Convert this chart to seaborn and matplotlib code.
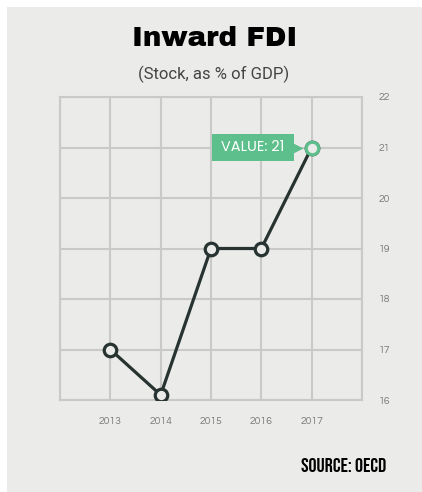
import matplotlib
matplotlib.use("Agg")
import matplotlib.pyplot as plt
from matplotlib.patches import Rectangle
import pandas as pd
import seaborn as sns

# data
years = [2013, 2014, 2015, 2016, 2017]
fdi_stock = [17.0, 16.1, 19.0, 19.0, 21.0]
y_ticks = [16, 17, 18, 19, 20, 21, 22]
grid_years = [2012, 2013, 2014, 2015, 2016, 2017, 2018]

bg = "#ebebe9"
grid_col = "#c9c9c7"
line_col = "#263330"
green = "#5dbf8b"
geo_font = ["Questrial", "Poppins", "DejaVu Sans"]

sns.set_style("white")
df = pd.DataFrame({"year": years, "value": fdi_stock})

fig = plt.figure(figsize=(4.22, 4.92), dpi=100)
fig.patch.set_facecolor("white")
fig.patches.append(Rectangle((7 / 422, 0), 1, 1 - 7 / 492, transform=fig.transFigure,
                             facecolor=bg, edgecolor="none", zorder=-10))

ax = fig.add_axes([60 / 422, 1 - 400 / 492, 302 / 422, 303 / 492])
ax.set_facecolor(bg)

sns.lineplot(data=df, x="year", y="value", ax=ax, color=line_col, linewidth=2.3,
             marker="o", markersize=9, markerfacecolor=bg, markeredgecolor=line_col,
             markeredgewidth=2.3, zorder=3)

# highlighted last point
last = df.iloc[[-1]]
last_val = last["value"].iloc[0]
ax.plot(last["year"], last["value"], "o", markersize=9, markerfacecolor=bg,
        markeredgecolor=green, markeredgewidth=2.3, zorder=4)
ax.text(2015.83, last_val, f" VALUE: {last_val:.0f} ", ha="center", va="center",
        color="white", fontsize=10.5, family=["Poppins", "DejaVu Sans"],
        bbox=dict(boxstyle="square,pad=0.38", facecolor=green, edgecolor="none"), zorder=5)
ax.plot([2016.73], [last_val], marker=">", markersize=7, color=green,
        markeredgecolor="none", zorder=5)

ax.set_xlim(2012, 2018)
ax.set_ylim(16, 22)
ax.set_xticks(grid_years)
ax.set_xticklabels([str(y) if y in years else "" for y in grid_years], family=geo_font)
ax.set_yticks(y_ticks)
ax.set_yticklabels([str(v) for v in y_ticks], family=geo_font)
ax.yaxis.tick_right()
ax.tick_params(axis="both", length=0, labelsize=7.5, labelcolor="#7a7a7a")
ax.tick_params(axis="x", pad=12)
ax.tick_params(axis="y", pad=12)
ax.grid(True, color=grid_col, linewidth=1.5)
for s in ax.spines.values():
    s.set_color(grid_col)
    s.set_linewidth(1.5)
ax.set_xlabel("")
ax.set_ylabel("")

fig.text(0.5 + 3.5 / 422, 1 - 38 / 492, "Inward FDI", ha="center", va="center",
         fontsize=20, fontweight="black", color="black",
         family=["Archivo Black", "Roboto", "DejaVu Sans"])
fig.text(0.5 + 3 / 422, 1 - 74 / 492, "(Stock, as % of GDP)", ha="center", va="center",
         fontsize=12, color="#444444", family=["Roboto", "DejaVu Sans"])
fig.text(386 / 422, 1 - 465 / 492, "SOURCE: OECD", ha="right", va="center",
         fontsize=14.5, fontweight="bold", color="black",
         family=["Bebas Neue", "Oswald", "Roboto Condensed", "DejaVu Sans"])

fig.savefig("out.png", dpi=100, facecolor=fig.get_facecolor())
